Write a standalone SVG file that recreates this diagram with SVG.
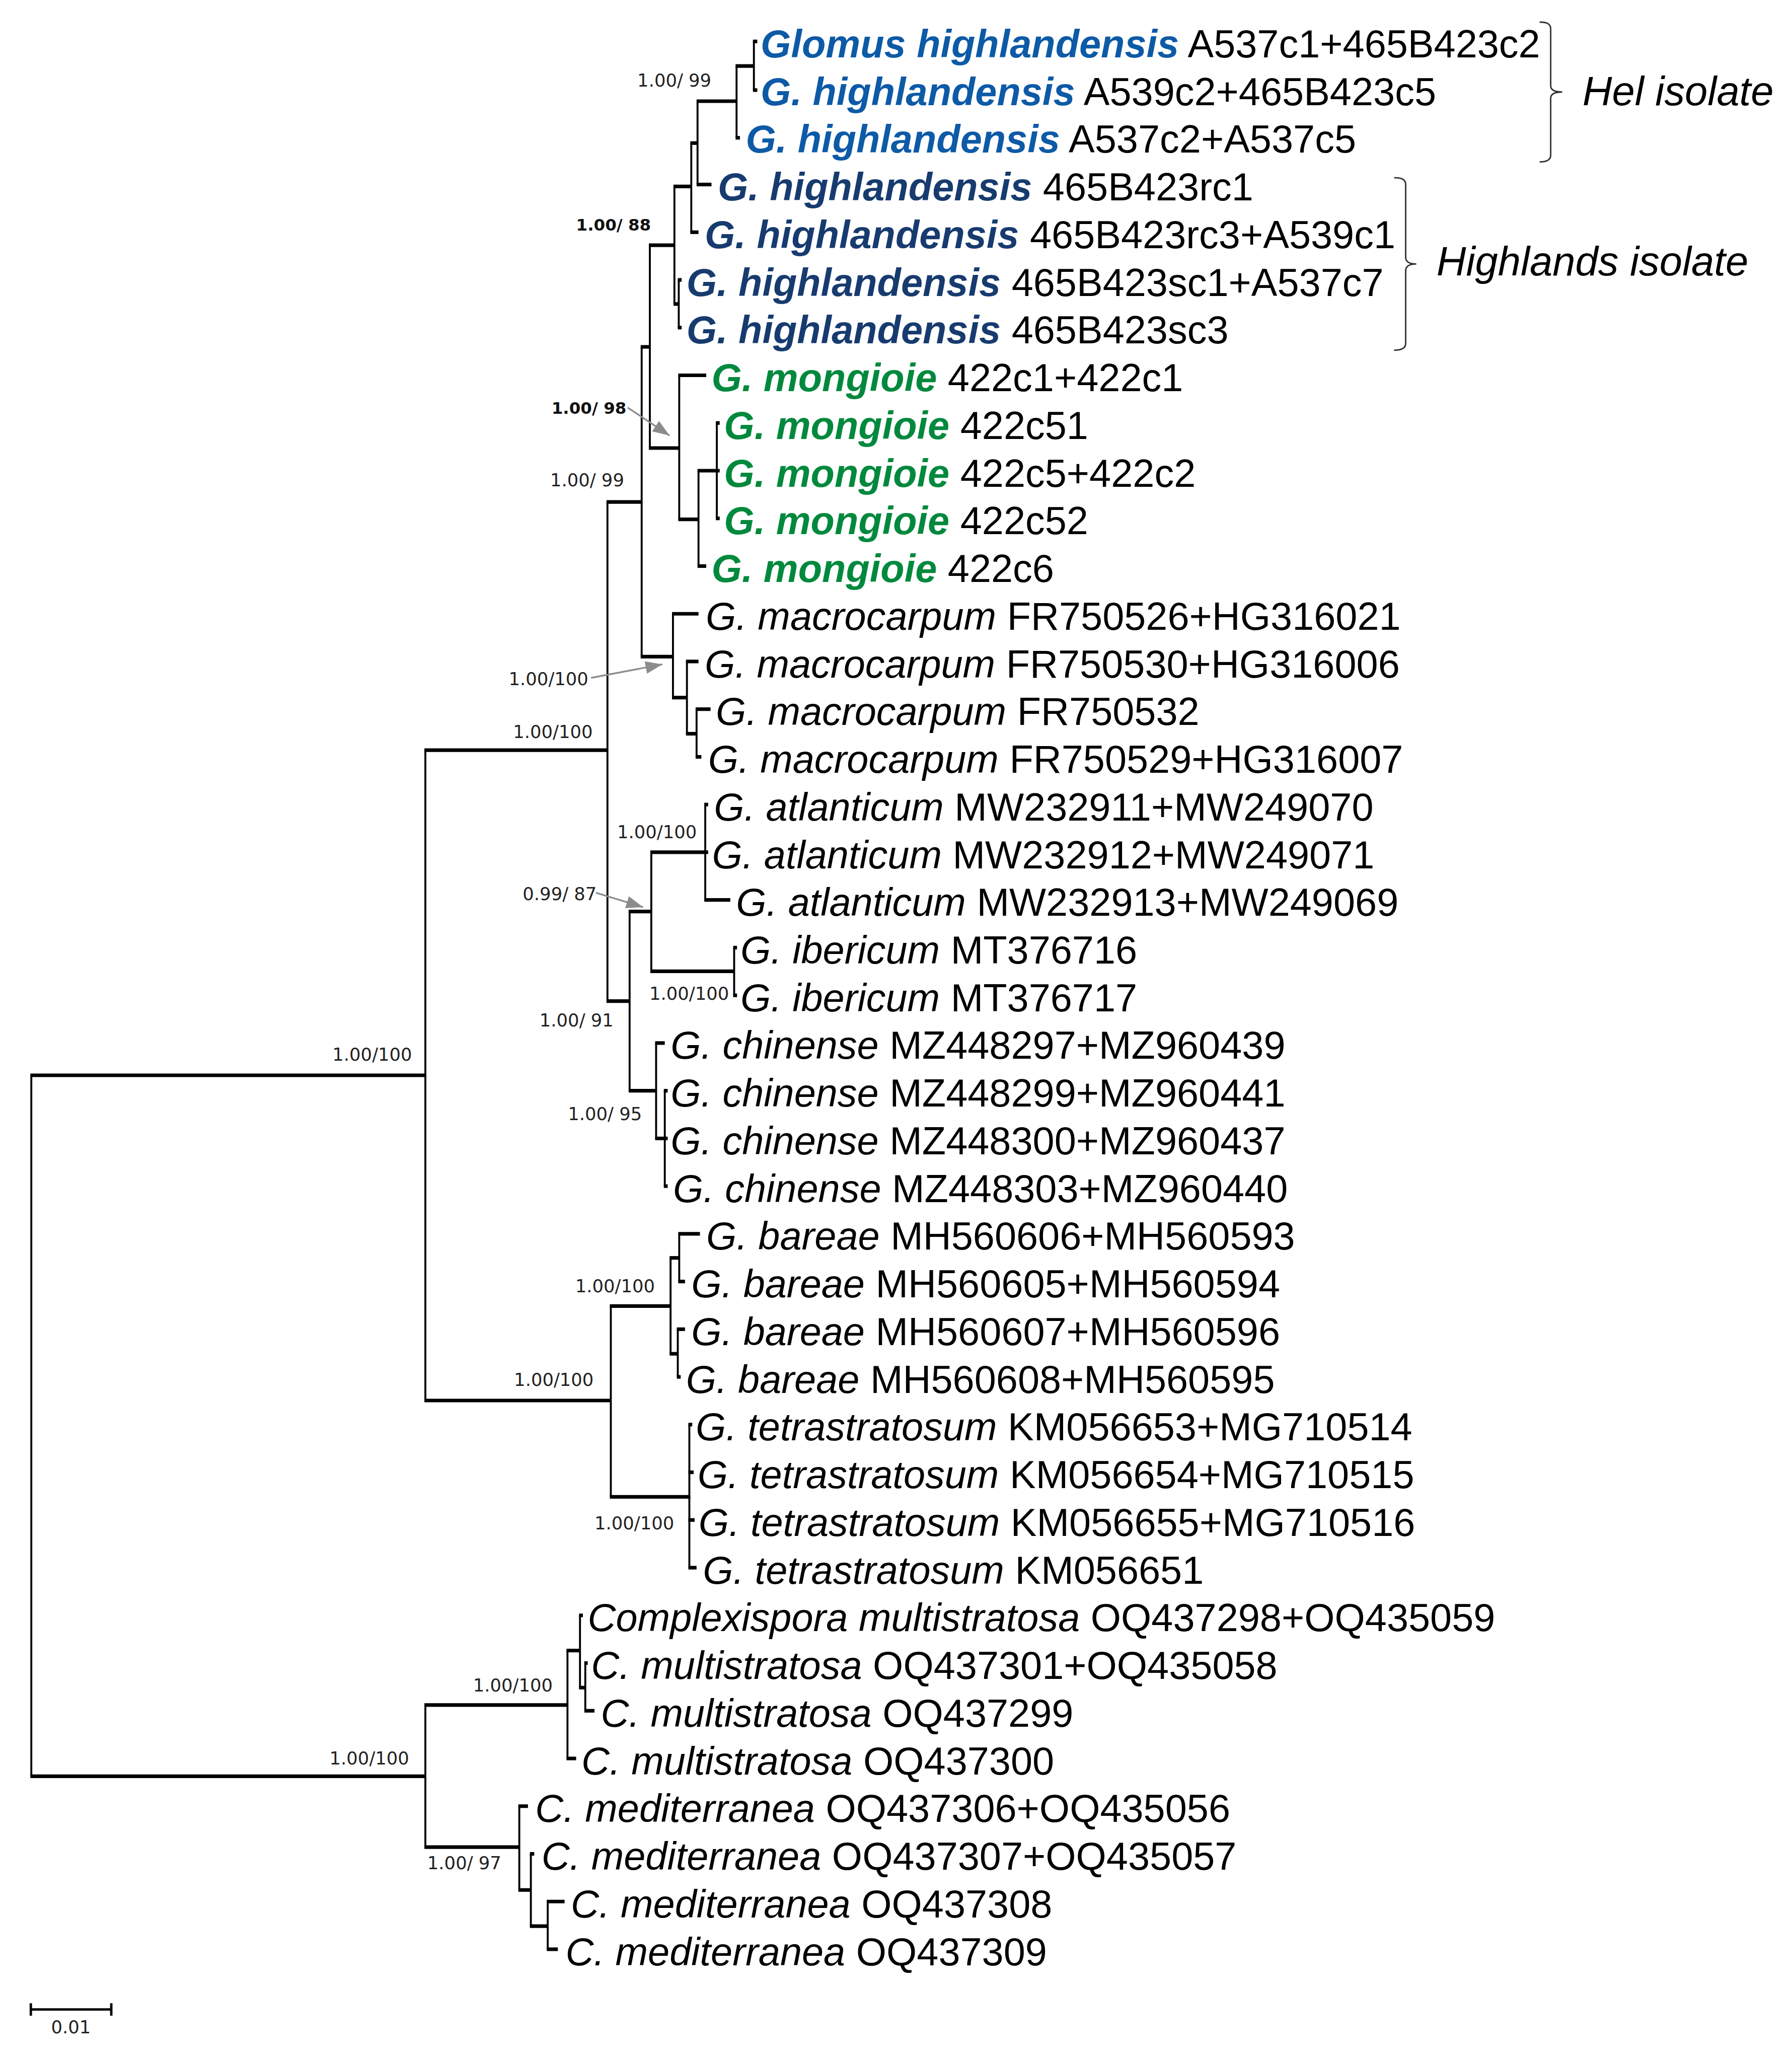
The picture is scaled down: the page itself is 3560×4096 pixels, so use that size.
<svg xmlns="http://www.w3.org/2000/svg" width="3560" height="4096" viewBox="0 0 3560 4096">
<style>
.br path{fill:none;stroke:#000}
.br .h{stroke-width:7.5}
.br .v{stroke-width:4}
.t{font-family:"Liberation Sans",Arial,sans-serif;font-size:81px;fill:#000}
.sp{font-style:italic}
.hel{font-style:italic;font-weight:bold;fill:#0d5aa7}
.hig{font-style:italic;font-weight:bold;fill:#173b6f}
.mon{font-style:italic;font-weight:bold;fill:#00893d}
.lab{font-family:"DejaVu Sans",Verdana,sans-serif;font-size:37px;fill:#222}
.labb{font-weight:bold;font-size:34px;fill:#111}
.iso{font-family:"Liberation Sans",Arial,sans-serif;font-style:italic;font-size:85px;fill:#000}
.brk{fill:none;stroke:#333;stroke-width:3}
.arr{stroke:#8c8c8c;stroke-width:3.5;fill:none}
</style>
<defs>
<marker id="ah" viewBox="0 0 35 26" refX="35" refY="13" markerWidth="35" markerHeight="26" orient="auto" markerUnits="userSpaceOnUse">
<path d="M0,0 L35,13 L0,26 z" fill="#8c8c8c"/>
</marker>
</defs>
<rect width="3560" height="4096" fill="#fff"/>
<g transform="scale(0.957)">
<g id="branches" class="br">
<path class="v" d="M65 2232V3687"/>
<path class="v" d="M883 1557V2907"/>
<path class="v" d="M1261 1042V2078"/>
<path class="v" d="M1332 720V1363"/>
<path class="v" d="M1349 509V930"/>
<path class="v" d="M1400 387V631"/>
<path class="v" d="M1409 581V680"/>
<path class="v" d="M1435 297V482"/>
<path class="v" d="M1448 210V383"/>
<path class="v" d="M1529 137V286"/>
<path class="v" d="M1565 86V187"/>
<path class="v" d="M1410 779V1078"/>
<path class="v" d="M1450 977V1175"/>
<path class="v" d="M1488 878V1076"/>
<path class="v" d="M1397 1274V1448"/>
<path class="v" d="M1426 1373V1523"/>
<path class="v" d="M1446 1472V1571"/>
<path class="v" d="M1307 1892V2264"/>
<path class="v" d="M1352 1769V2016"/>
<path class="v" d="M1464 1670V1868"/>
<path class="v" d="M1524 1967V2066"/>
<path class="v" d="M1362 2165V2363"/>
<path class="v" d="M1380 2264V2462"/>
<path class="v" d="M1268 2711V3107"/>
<path class="v" d="M1392 2611V2810"/>
<path class="v" d="M1410 2561V2660"/>
<path class="v" d="M1407 2759V2858"/>
<path class="v" d="M1431 2957V3254"/>
<path class="v" d="M883 3539V3834"/>
<path class="v" d="M1178 3426V3650"/>
<path class="v" d="M1204 3353V3503"/>
<path class="v" d="M1215 3452V3551"/>
<path class="v" d="M1078 3749V3923"/>
<path class="v" d="M1102 3848V3998"/>
<path class="v" d="M1137 3947V4046"/>
<path class="h" d="M63 2232H883"/>
<path class="h" d="M63 3687H883"/>
<path class="h" d="M881 1557H1262"/>
<path class="h" d="M881 2907H1268"/>
<path class="h" d="M1259 1042H1332"/>
<path class="h" d="M1259 2078H1307"/>
<path class="h" d="M1330 720H1349"/>
<path class="h" d="M1330 1363H1397"/>
<path class="h" d="M1347 509H1400"/>
<path class="h" d="M1347 930H1410"/>
<path class="h" d="M1398 387H1435"/>
<path class="h" d="M1398 631H1409"/>
<path class="h" d="M1407 581H1415"/>
<path class="h" d="M1407 680H1415"/>
<path class="h" d="M1433 297H1448"/>
<path class="h" d="M1433 482H1450"/>
<path class="h" d="M1446 210H1529"/>
<path class="h" d="M1446 383H1477"/>
<path class="h" d="M1527 137H1565"/>
<path class="h" d="M1527 286H1536"/>
<path class="h" d="M1563 86H1572"/>
<path class="h" d="M1563 187H1572"/>
<path class="h" d="M1408 779H1466"/>
<path class="h" d="M1408 1078H1450"/>
<path class="h" d="M1448 977H1494"/>
<path class="h" d="M1448 1175H1466"/>
<path class="h" d="M1486 878H1494"/>
<path class="h" d="M1486 1076H1494"/>
<path class="h" d="M1395 1274H1450"/>
<path class="h" d="M1395 1448H1426"/>
<path class="h" d="M1424 1373H1450"/>
<path class="h" d="M1424 1523H1446"/>
<path class="h" d="M1444 1472H1475"/>
<path class="h" d="M1444 1571H1456"/>
<path class="h" d="M1305 1892H1352"/>
<path class="h" d="M1305 2264H1362"/>
<path class="h" d="M1350 1769H1470"/>
<path class="h" d="M1350 2016H1524"/>
<path class="h" d="M1462 1670H1470"/>
<path class="h" d="M1462 1868H1516"/>
<path class="h" d="M1522 1967H1530"/>
<path class="h" d="M1522 2066H1530"/>
<path class="h" d="M1360 2165H1380"/>
<path class="h" d="M1360 2363H1386"/>
<path class="h" d="M1378 2264H1386"/>
<path class="h" d="M1378 2462H1386"/>
<path class="h" d="M1266 2711H1392"/>
<path class="h" d="M1266 3107H1433"/>
<path class="h" d="M1390 2611H1410"/>
<path class="h" d="M1390 2810H1407"/>
<path class="h" d="M1408 2561H1453"/>
<path class="h" d="M1408 2660H1422"/>
<path class="h" d="M1405 2759H1422"/>
<path class="h" d="M1405 2858H1413"/>
<path class="h" d="M1429 2957H1437"/>
<path class="h" d="M1429 3056H1440"/>
<path class="h" d="M1429 3155H1442"/>
<path class="h" d="M1429 3254H1446"/>
<path class="h" d="M881 3539H1178"/>
<path class="h" d="M881 3834H1078"/>
<path class="h" d="M1176 3426H1204"/>
<path class="h" d="M1176 3650H1196"/>
<path class="h" d="M1202 3353H1210"/>
<path class="h" d="M1202 3503H1215"/>
<path class="h" d="M1213 3452H1220"/>
<path class="h" d="M1213 3551H1234"/>
<path class="h" d="M1076 3749H1096"/>
<path class="h" d="M1076 3923H1102"/>
<path class="h" d="M1100 3848H1109"/>
<path class="h" d="M1100 3998H1137"/>
<path class="h" d="M1135 3947H1172"/>
<path class="h" d="M1135 4046H1158"/>
</g>
<g id="arrows">
<path class="arr" d="M1303 846L1390 904" marker-end="url(#ah)"/>
<path class="arr" d="M1227 1407L1375 1379" marker-end="url(#ah)"/>
<path class="arr" d="M1237 1853L1335 1883" marker-end="url(#ah)"/>
</g>
<g id="support">
<text class="lab" x="1323" y="180">1.00/ 99</text>
<text class="lab labb" x="1196" y="479">1.00/ 88</text>
<text class="lab labb" x="1145" y="859">1.00/ 98</text>
<text class="lab" x="1142" y="1009">1.00/ 99</text>
<text class="lab" x="1056" y="1422">1.00/100</text>
<text class="lab" x="1065" y="1532">1.00/100</text>
<text class="lab" x="1281" y="1740">1.00/100</text>
<text class="lab" x="1085" y="1868">0.99/ 87</text>
<text class="lab" x="1348" y="2075">1.00/100</text>
<text class="lab" x="1120" y="2131">1.00/ 91</text>
<text class="lab" x="1179" y="2325">1.00/ 95</text>
<text class="lab" x="1194" y="2682">1.00/100</text>
<text class="lab" x="1067" y="2877">1.00/100</text>
<text class="lab" x="1234" y="3175">1.00/100</text>
<text class="lab" x="690" y="2202">1.00/100</text>
<text class="lab" x="684" y="3662">1.00/100</text>
<text class="lab" x="982" y="3511">1.00/100</text>
<text class="lab" x="887" y="3880">1.00/ 97</text>
</g>
<g id="taxa">
<g id="t1"><text class="t" x="1579" y="119"><tspan class="hel">Glomus highlandensis</tspan> A537c1+465B423c2</text></g>
<g id="t2"><text class="t" x="1579" y="218"><tspan class="hel">G. highlandensis</tspan> A539c2+465B423c5</text></g>
<g id="t3"><text class="t" x="1548" y="317"><tspan class="hel">G. highlandensis</tspan> A537c2+A537c5</text></g>
<g id="t4"><text class="t" x="1490" y="416"><tspan class="hig">G. highlandensis</tspan> 465B423rc1</text></g>
<g id="t5"><text class="t" x="1463" y="515"><tspan class="hig">G. highlandensis</tspan> 465B423rc3+A539c1</text></g>
<g id="t6"><text class="t" x="1425" y="614"><tspan class="hig">G. highlandensis</tspan> 465B423sc1+A537c7</text></g>
<g id="t7"><text class="t" x="1425" y="713"><tspan class="hig">G. highlandensis</tspan> 465B423sc3</text></g>
<g id="t8"><text class="t" x="1477" y="812"><tspan class="mon">G. mongioie</tspan> 422c1+422c1</text></g>
<g id="t9"><text class="t" x="1503" y="911"><tspan class="mon">G. mongioie</tspan> 422c51</text></g>
<g id="t10"><text class="t" x="1503" y="1010"><tspan class="mon">G. mongioie</tspan> 422c5+422c2</text></g>
<g id="t11"><text class="t" x="1503" y="1109"><tspan class="mon">G. mongioie</tspan> 422c52</text></g>
<g id="t12"><text class="t" x="1477" y="1208"><tspan class="mon">G. mongioie</tspan> 422c6</text></g>
<g id="t13"><text class="t" x="1465" y="1307"><tspan class="sp">G. macrocarpum</tspan> FR750526+HG316021</text></g>
<g id="t14"><text class="t" x="1463" y="1406"><tspan class="sp">G. macrocarpum</tspan> FR750530+HG316006</text></g>
<g id="t15"><text class="t" x="1486" y="1505"><tspan class="sp">G. macrocarpum</tspan> FR750532</text></g>
<g id="t16"><text class="t" x="1470" y="1604"><tspan class="sp">G. macrocarpum</tspan> FR750529+HG316007</text></g>
<g id="t17"><text class="t" x="1482" y="1703"><tspan class="sp">G. atlanticum</tspan> MW232911+MW249070</text></g>
<g id="t18"><text class="t" x="1478" y="1802"><tspan class="sp">G. atlanticum</tspan> MW232912+MW249071</text></g>
<g id="t19"><text class="t" x="1528" y="1901"><tspan class="sp">G. atlanticum</tspan> MW232913+MW249069</text></g>
<g id="t20"><text class="t" x="1537" y="2000"><tspan class="sp">G. ibericum</tspan> MT376716</text></g>
<g id="t21"><text class="t" x="1537" y="2099"><tspan class="sp">G. ibericum</tspan> MT376717</text></g>
<g id="t22"><text class="t" x="1392" y="2198"><tspan class="sp">G. chinense</tspan> MZ448297+MZ960439</text></g>
<g id="t23"><text class="t" x="1392" y="2297"><tspan class="sp">G. chinense</tspan> MZ448299+MZ960441</text></g>
<g id="t24"><text class="t" x="1392" y="2396"><tspan class="sp">G. chinense</tspan> MZ448300+MZ960437</text></g>
<g id="t25"><text class="t" x="1397" y="2495"><tspan class="sp">G. chinense</tspan> MZ448303+MZ960440</text></g>
<g id="t26"><text class="t" x="1466" y="2594"><tspan class="sp">G. bareae</tspan> MH560606+MH560593</text></g>
<g id="t27"><text class="t" x="1435" y="2693"><tspan class="sp">G. bareae</tspan> MH560605+MH560594</text></g>
<g id="t28"><text class="t" x="1435" y="2792"><tspan class="sp">G. bareae</tspan> MH560607+MH560596</text></g>
<g id="t29"><text class="t" x="1424" y="2891"><tspan class="sp">G. bareae</tspan> MH560608+MH560595</text></g>
<g id="t30"><text class="t" x="1444" y="2990"><tspan class="sp">G. tetrastratosum</tspan> KM056653+MG710514</text></g>
<g id="t31"><text class="t" x="1448" y="3089"><tspan class="sp">G. tetrastratosum</tspan> KM056654+MG710515</text></g>
<g id="t32"><text class="t" x="1450" y="3188"><tspan class="sp">G. tetrastratosum</tspan> KM056655+MG710516</text></g>
<g id="t33"><text class="t" x="1459" y="3287"><tspan class="sp">G. tetrastratosum</tspan> KM056651</text></g>
<g id="t34"><text class="t" x="1220" y="3386"><tspan class="sp">Complexispora multistratosa</tspan> OQ437298+OQ435059</text></g>
<g id="t35"><text class="t" x="1227" y="3485"><tspan class="sp">C. multistratosa</tspan> OQ437301+OQ435058</text></g>
<g id="t36"><text class="t" x="1247" y="3584"><tspan class="sp">C. multistratosa</tspan> OQ437299</text></g>
<g id="t37"><text class="t" x="1207" y="3683"><tspan class="sp">C. multistratosa</tspan> OQ437300</text></g>
<g id="t38"><text class="t" x="1111" y="3782"><tspan class="sp">C. mediterranea</tspan> OQ437306+OQ435056</text></g>
<g id="t39"><text class="t" x="1124" y="3881"><tspan class="sp">C. mediterranea</tspan> OQ437307+OQ435057</text></g>
<g id="t40"><text class="t" x="1185" y="3980"><tspan class="sp">C. mediterranea</tspan> OQ437308</text></g>
<g id="t41"><text class="t" x="1174" y="4079"><tspan class="sp">C. mediterranea</tspan> OQ437309</text></g>
</g>
<g id="hel-isolate">
<path class="brk" d="M3196 46Q3219 45 3219 60V178Q3219 191 3243 191Q3219 191 3219 204V322Q3219 336 3196 336"/>
<text class="iso" x="3285" y="218">Hel isolate</text>
</g>
<g id="highlands-isolate">
<path class="brk" d="M2894 369Q2918 368 2918 383V534Q2918 548 2940 548Q2918 548 2918 562V713Q2918 727 2894 727"/>
<text class="iso" x="2982" y="572">Highlands isolate</text>
</g>
<g id="scale-bar">
<path d="M64 4171H231M64 4158V4184M231 4158V4184" stroke="#000" stroke-width="5" fill="none"/>
<text class="lab" x="106" y="4220">0.01</text>
</g>
</g>
</svg>
